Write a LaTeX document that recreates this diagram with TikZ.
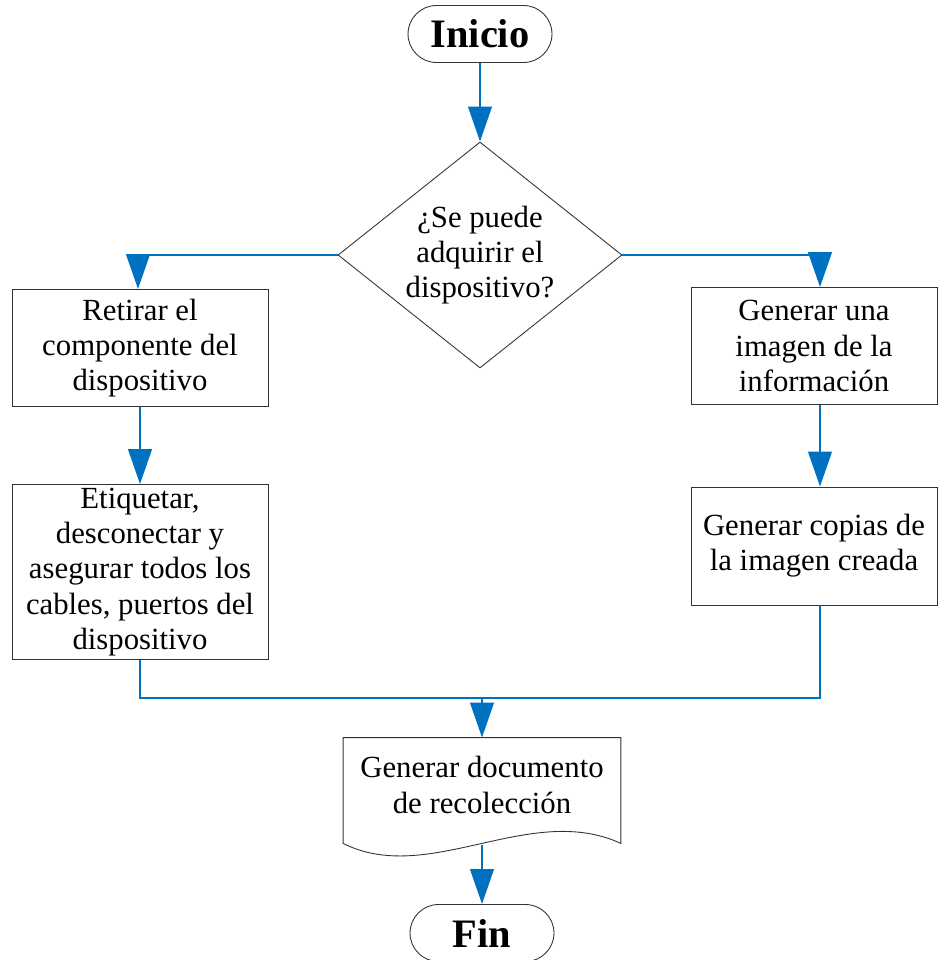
\documentclass[tikz,border=0pt]{standalone}
\usepackage{fontspec}
\setmainfont{Liberation Serif}
\usepackage{tikz}
\usetikzlibrary{shapes.geometric,arrows.meta}
\definecolor{flowblue}{RGB}{0,112,192}

\begin{document}
\begin{tikzpicture}[x=0.02cm,y=-0.02cm,
  box/.style={draw=black!80,line width=0.5pt,align=center,inner sep=2pt,
    font=\fontsize{17.5pt}{20pt}\selectfont},
  term/.style={draw=black!80,line width=0.5pt,rounded corners=0.57cm,
    minimum width=2.88cm,minimum height=1.14cm,font=\fontsize{23pt}{26pt}\selectfont\bfseries},
  flow/.style={flowblue,line width=1.6pt,-{Triangle[length=0.7cm,width=0.47cm]}},
  mergeline/.style={flowblue,line width=1.6pt}]
\useasboundingbox (0,0) rectangle (938,960);

% Start and decision
\node[term] (inicio) at (480,34) {Inicio};
\node[box,diamond,aspect=1.257,minimum width=5.68cm,minimum height=4.52cm,inner sep=0pt] (cond) at (480,255)
  {¿Se puede\\adquirir el\\dispositivo?};

% Left branch
\node[box,minimum width=5.12cm,minimum height=2.34cm] (retirar) at (140,348)
  {Retirar el\\componente del\\dispositivo};
\node[box,minimum width=5.12cm,minimum height=3.5cm] (etiquetar) at (140,572)
  {Etiquetar,\\desconectar y\\asegurar todos los\\cables, puertos del\\dispositivo};

% Right branch
\node[box,minimum width=4.92cm,minimum height=2.34cm] (imagen) at (814,346)
  {Generar una\\imagen de la\\información};
\node[box,minimum width=4.92cm,minimum height=2.36cm] (copias) at (814,546)
  {Generar copias de\\la imagen creada};

% Document and end
\node[box,draw=none,minimum width=5.54cm,minimum height=1.88cm] (doc) at (482,785)
  {Generar documento\\de recolección};
\draw[black!80,line width=0.5pt] (doc.north west) -- (doc.north east)
  -- ([yshift=-0.22cm]doc.south east)
  .. controls ([xshift=-1.82cm,yshift=0.62cm]doc.south east) and ([xshift=1.72cm,yshift=-1.08cm]doc.south west)
  .. ([yshift=-0.22cm]doc.south west) -- cycle;
\coordinate (docb) at (482,845);
\node[term] (fin) at (482,933) {Fin};

% Connectors
\coordinate (j) at (482,698);
\draw[flow] (inicio) -- (cond.north);
\draw[flow] (cond.west) -| ([xshift=-0.04cm]retirar.north);
\draw[flow] (cond.east) -| ([xshift=0.12cm]imagen.north);
\draw[flow] (retirar) -- (etiquetar);
\draw[flow] ([xshift=0.12cm]imagen.south) -- ([xshift=0.12cm]copias.north);
\draw[mergeline] (etiquetar.south) |- (j) -| ([xshift=0.12cm]copias.south);
\draw[flow] (j) -- (doc.north);
\draw[flow] (docb) -- (fin.north);
\end{tikzpicture}
\end{document}
